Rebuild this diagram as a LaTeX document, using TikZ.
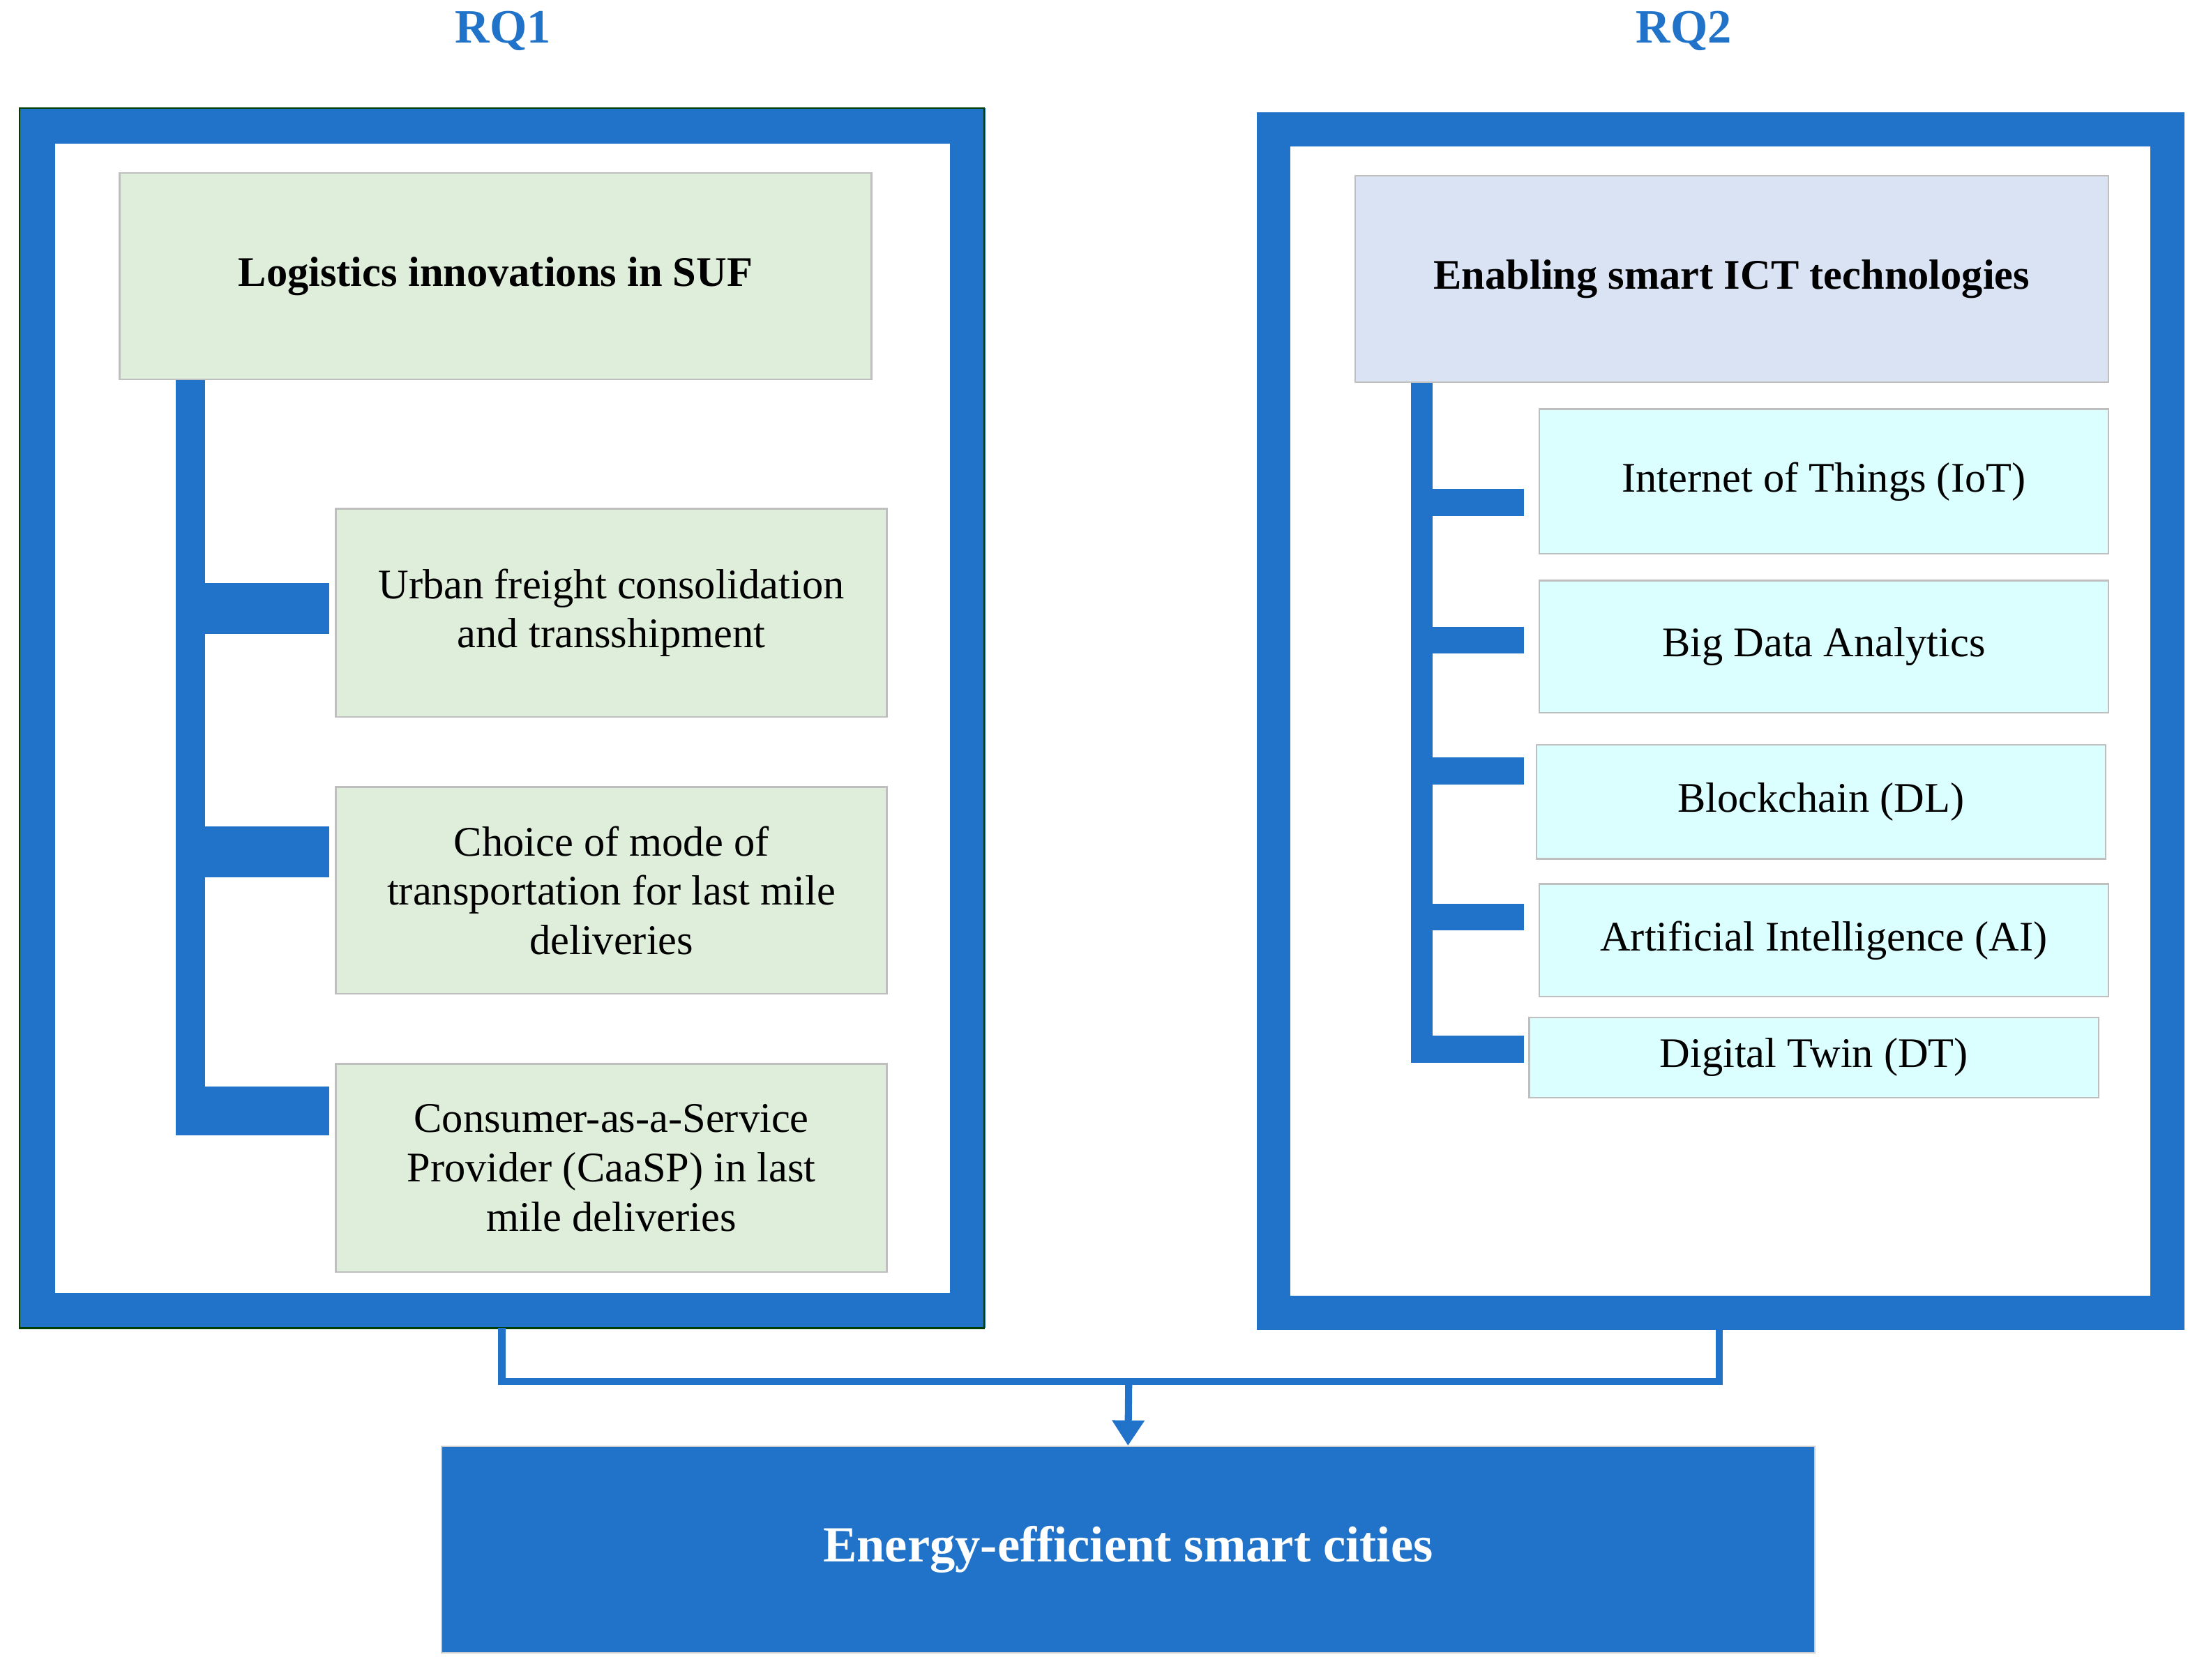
\documentclass[tikz,border=0pt]{standalone}
\usepackage{fontspec}
\setmainfont{Liberation Serif}
\usetikzlibrary{arrows.meta}
\definecolor{bl}{HTML}{2073C8}
\definecolor{gf}{HTML}{DFEEDA}
\definecolor{hf}{HTML}{DAE3F3}
\definecolor{cf}{HTML}{DBFFFF}
\begin{document}
\begin{tikzpicture}[x=0.5pt,y=-0.5pt,
 box/.style={draw=gray!50,line width=0.6pt,align=center,inner sep=0pt,font=\fontsize{15}{17.5}\selectfont},
 bar/.style={fill=bl,draw=none},
 rq/.style={text=bl,font=\fontsize{17}{20}\selectfont\bfseries},
 conn/.style={draw=bl,line width=2.5pt}]
\useasboundingbox (0,0) rectangle (1568,1195);
\node[rq] (rq1) at (358,22) {RQ1};
\node[rq] (rq2) at (1198,22) {RQ2};
% frames
\draw[bl,line width=12.5pt] (26.5,89.5) rectangle (688.5,932.5);
\draw[black!60!green!60!black,line width=0.5pt] (14,77) rectangle (700,945);
\draw[bl,line width=12pt] (906,92) rectangle (1542,934);
\coordinate (lf) at (357,945);
\coordinate (rf) at (1223,946);
% left bracket
\fill[bar] (125,263) rectangle (146,808);
\fill[bar] (146,415) rectangle (234,451);
\fill[bar] (146,588) rectangle (234,624);
\fill[bar] (146,773) rectangle (234,808);
% right bracket
\fill[bar] (1004,265) rectangle (1019,756);
\foreach \y in {348,446,539,643,737} \fill[bar] (1019,\y) rectangle (1084,\y+19);
% left boxes
\node[box,fill=gf,minimum width=267.5pt,minimum height=73.5pt,font=\fontsize{15}{17.5}\selectfont\bfseries] (lh) at (352.5,196.5) {Logistics innovations in SUF};
\node[box,fill=gf,minimum width=196pt,minimum height=74pt] (l1) at (435,436) {Urban freight consolidation\\and transshipment};
\node[box,fill=gf,minimum width=196pt,minimum height=73.5pt] (l2) at (435,633.5) {Choice of mode of\\transportation for last mile\\deliveries};
\node[box,fill=gf,minimum width=196pt,minimum height=74pt] (l3) at (435,831) {Consumer-as-a-Service\\Provider (CaaSP) in last\\mile deliveries};
% right boxes
\node[box,fill=hf,minimum width=268pt,minimum height=73.5pt,font=\fontsize{15}{17.5}\selectfont\bfseries] (rh) at (1232,198.5) {Enabling smart ICT technologies};
\node[box,fill=cf,minimum width=202.5pt,minimum height=51.5pt] (r1) at (1297.5,342.5) {Internet of Things (IoT)};
\node[box,fill=cf,minimum width=202.5pt,minimum height=47pt] (r2) at (1297.5,460) {Big Data Analytics};
\node[box,fill=cf,minimum width=202.5pt,minimum height=40.5pt] (r3) at (1295.5,570.5) {Blockchain (DL)};
\node[box,fill=cf,minimum width=202.5pt,minimum height=40pt] (r4) at (1297.5,669) {Artificial Intelligence (AI)};
\node[box,fill=cf,minimum width=202.5pt,minimum height=28.5pt] (r5) at (1290.5,752.5) {Digital Twin (DT)};
% bottom
\node[fill=bl,draw=gray!40,minimum width=488.5pt,minimum height=73.5pt,text=white,font=\fontsize{18}{21}\selectfont\bfseries] (ec) at (802.5,1102.5) {Energy-efficient smart cities};
\coordinate (j) at (803,983);
\draw[conn] (lf) |- (j) -| (rf);
\draw[conn,-{Triangle[length=9pt,width=11pt]}] (j) -- (ec.north);
\end{tikzpicture}
\end{document}
